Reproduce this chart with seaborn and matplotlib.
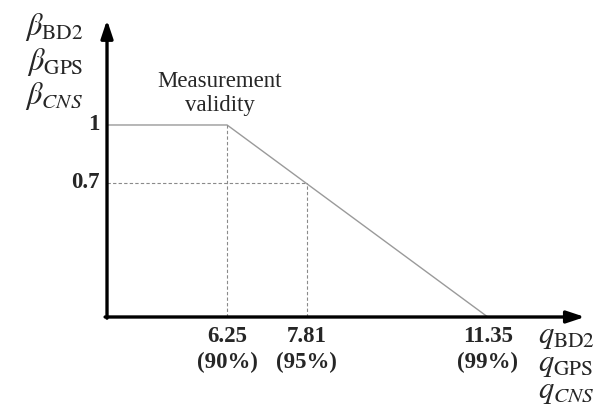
import numpy as np
import pandas as pd
import matplotlib
matplotlib.use('Agg')
import matplotlib.pyplot as plt
import seaborn as sns

# thresholds of the chi-square test statistic and the weight levels
q_thresholds = [6.25, 7.81, 11.35]
q_confidence = ['90%', '95%', '99%']
beta_full = 1.0
beta_mid = 0.7
beta_zero = 0.0

y_labels = [r'$\beta_{\mathrm{BD2}}$', r'$\beta_{\mathrm{GPS}}$', r'$\beta_{CNS}$']
x_labels = [r'$q_{\mathrm{BD2}}$', r'$q_{\mathrm{GPS}}$', r'$q_{CNS}$']

sns.set_theme(style='white')
plt.rcParams['font.family'] = ['Liberation Serif', 'DejaVu Serif']
plt.rcParams['mathtext.fontset'] = 'stix'

X_MIN, X_MAX = 3.9, 13.25
Y_MIN, Y_MAX = 0.0, 1.547

fig = plt.figure(figsize=(6.15, 4.16), dpi=100)
ax = fig.add_axes([0.174, 0.238, 0.777, 0.714])
ax.set_xlim(X_MIN, X_MAX)
ax.set_ylim(Y_MIN, Y_MAX)
for s in ax.spines.values():
    s.set_visible(False)
ax.set_xticks([])
ax.set_yticks([])

# weighting curve
curve = pd.DataFrame({'q': [X_MIN, q_thresholds[0], q_thresholds[2]],
                      'beta': [beta_full, beta_full, beta_zero]})
sns.lineplot(data=curve, x='q', y='beta', ax=ax, color='#9a9a9a', lw=1.0,
             sort=False, estimator=None)

# dashed guides
dash_kw = dict(color='#8a8a8a', lw=0.8, ls=(0, (3, 2)))
ax.plot([q_thresholds[0]] * 2, [beta_zero, beta_full], **dash_kw)
ax.plot([q_thresholds[1]] * 2, [beta_zero, beta_mid], **dash_kw)
ax.plot([X_MIN, q_thresholds[1]], [beta_mid, beta_mid], **dash_kw)

# axes arrows
arrow_kw = dict(arrowstyle='-|>,head_length=0.9,head_width=0.3', lw=2.4,
                color='black', shrinkA=0, shrinkB=0)
ax.annotate('', xy=(1, 0), xytext=(-0.004, 0), xycoords='axes fraction',
            arrowprops=arrow_kw)
ax.annotate('', xy=(0, 1), xytext=(0, -0.004), xycoords='axes fraction',
            arrowprops=arrow_kw)

# tick labels
for q, c in zip(q_thresholds, q_confidence):
    ax.text(q, -0.045, f'{q:.2f}\n({c})', ha='center', va='top', fontsize=16.5,
            fontweight='bold', linespacing=1.3)
ax.text(-0.015, beta_full, '1', transform=ax.get_yaxis_transform(),
        ha='right', va='center', fontsize=16.5, fontweight='bold')
ax.text(-0.015, beta_mid, '0.7', transform=ax.get_yaxis_transform(),
        ha='right', va='center', fontsize=16.5, fontweight='bold')

ax.text(6.1, 1.165, 'Measurement\nvalidity', ha='center', va='center',
        fontsize=16.5, linespacing=1.15)

# axis symbols
for i, lab in enumerate(y_labels):
    fig.text(0.135, 0.935 - i * 0.083, lab, ha='right', va='center', fontsize=22)
for i, lab in enumerate(x_labels):
    fig.text(0.875, 0.19 - i * 0.066, lab, ha='left', va='center', fontsize=22)

fig.savefig('out.png', dpi=100)
plt.close()
